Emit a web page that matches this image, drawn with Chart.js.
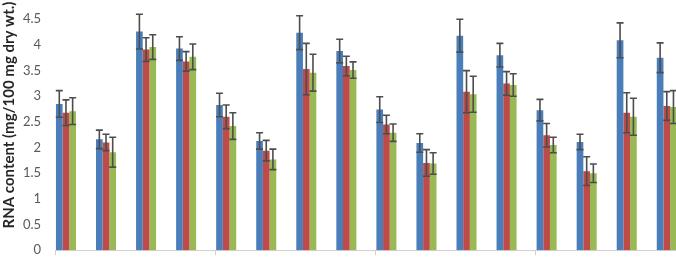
<!DOCTYPE html>
<html>
<head>
<meta charset="utf-8">
<script src="https://cdn.jsdelivr.net/npm/chart.js@4/dist/chart.umd.min.js"></script>
<style>
  html, body { margin: 0; padding: 0; background: #fff; overflow: hidden; }
  #wrap { width: 676px; height: 258px; overflow: hidden; }
  /* the original figure is cropped at the top, so the plot runs above the window */
  #rna { margin-top: -28px; display: block; }
</style>
</head>
<body>
<div id="wrap"><canvas id="rna" width="676" height="286"></canvas></div>
<script>
// groups along the x axis (no labels in the original)
const groups = [1, 2, 3, 4, 5, 6, 7, 8, 9, 10, 11, 12, 13, 14, 15, 16];

const blueVals  = [2.85, 2.16, 4.26, 3.93, 2.83, 2.13, 4.24, 3.88, 2.74, 2.09, 4.18, 3.80, 2.73, 2.11, 4.09, 3.75];
const redVals   = [2.68, 2.10, 3.91, 3.68, 2.60, 1.94, 3.53, 3.59, 2.45, 1.70, 3.09, 3.25, 2.24, 1.54, 2.68, 2.81];
const greenVals = [2.71, 1.91, 3.96, 3.77, 2.42, 1.77, 3.46, 3.51, 2.29, 1.69, 3.04, 3.22, 2.05, 1.50, 2.60, 2.79];

const blueErr  = [0.26, 0.18, 0.34, 0.23, 0.23, 0.16, 0.33, 0.23, 0.25, 0.18, 0.32, 0.23, 0.21, 0.15, 0.34, 0.29];
const redErr   = [0.25, 0.16, 0.23, 0.19, 0.23, 0.20, 0.50, 0.19, 0.18, 0.26, 0.41, 0.23, 0.23, 0.28, 0.39, 0.28];
const greenErr = [0.26, 0.29, 0.24, 0.25, 0.26, 0.20, 0.36, 0.16, 0.17, 0.21, 0.35, 0.22, 0.15, 0.18, 0.36, 0.32];

const yTicks = [0, 0.5, 1, 1.5, 2, 2.5, 3, 3.5, 4, 4.5];
// x tick marks sit between every fourth group
const xTickMarks = [0.73, 4.73, 8.73, 12.73];

function pts(vals) {
  return groups.map((g, i) => ({ x: g, y: vals[i] }));
}

const errors = [blueErr, redErr, greenErr];

// error bars (caps top and bottom)
const errorBars = {
  id: 'errorBars',
  afterDatasetsDraw(chart) {
    const ctx = chart.ctx;
    const y = chart.scales.y;
    ctx.save();
    ctx.strokeStyle = '#4d4d4d';
    ctx.lineWidth = 1.6;
    chart.data.datasets.forEach((ds, di) => {
      const meta = chart.getDatasetMeta(di);
      meta.data.forEach((bar, i) => {
        const v = ds.data[i].y;
        const e = errors[di][i];
        const top = y.getPixelForValue(v + e);
        const bot = y.getPixelForValue(v - e);
        const x = bar.x;
        ctx.beginPath();
        ctx.moveTo(x, top); ctx.lineTo(x, bot);
        ctx.moveTo(x - 3.5, top); ctx.lineTo(x + 3.5, top);
        ctx.moveTo(x - 3.5, bot); ctx.lineTo(x + 3.5, bot);
        ctx.stroke();
      });
    });
    ctx.restore();
  }
};

new Chart(document.getElementById('rna'), {
  type: 'bar',
  data: {
    datasets: [
      { data: pts(blueVals), backgroundColor: '#4a7ebb' },
      { data: pts(redVals), backgroundColor: '#be4b48' },
      { data: pts(greenVals), backgroundColor: '#98b954' }
    ]
  },
  options: {
    responsive: false,
    animation: false,
    categoryPercentage: 0.5,
    barPercentage: 1.0,
    layout: { padding: 0 },
    plugins: { legend: { display: false }, tooltip: { enabled: false } },
    scales: {
      x: {
        type: 'linear',
        offset: false,
        min: 0.73,
        max: 16.23,
        afterBuildTicks: s => { s.ticks = xTickMarks.map(v => ({ value: v })); },
        ticks: { display: false },
        grid: { offset: false, drawOnChartArea: false, tickLength: 5, color: '#d0d0d0' },
        border: { color: '#d0d0d0', width: 1 }
      },
      y: {
        min: 0,
        max: 5.27,
        afterBuildTicks: s => { s.ticks = yTicks.map(v => ({ value: v })); },
        ticks: {
          color: '#595959',
          font: { family: 'Lato', size: 13 },
          padding: 0,
          callback: v => String(v)
        },
        grid: { display: false, drawTicks: true, tickLength: 14 },
        border: { display: false },
        title: {
          display: true,
          text: 'RNA content (mg/100 mg dry wt.)',
          color: '#262626',
          font: { family: 'Lato', size: 15, weight: 'bold' },
          padding: { top: 0, bottom: 5 }
        }
      }
    }
  },
  plugins: [errorBars]
});
</script>
</body>
</html>
